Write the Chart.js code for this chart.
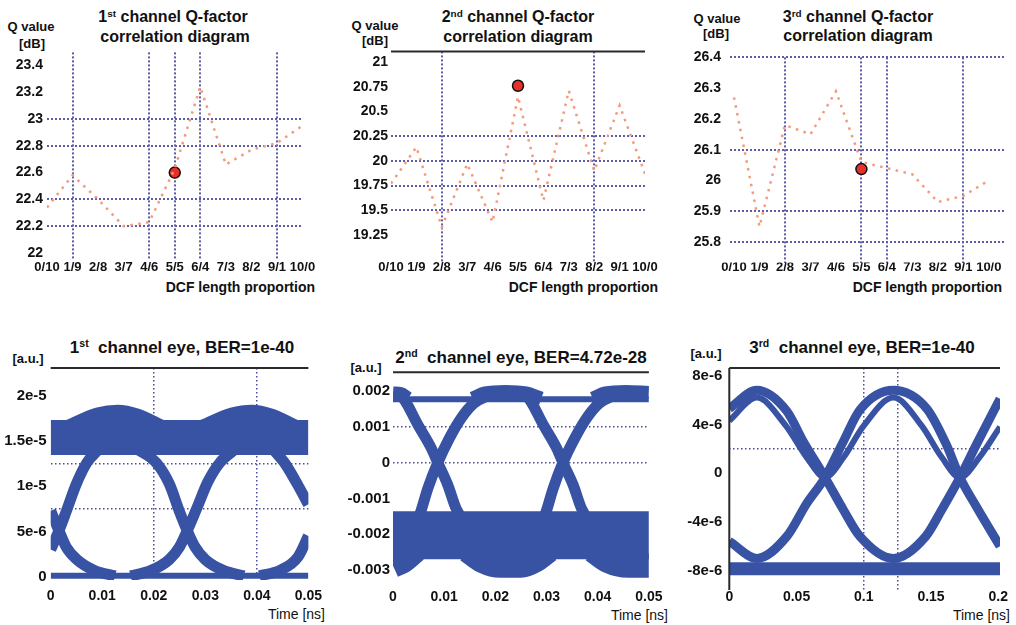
<!DOCTYPE html>
<html>
<head>
<meta charset="utf-8">
<script src="https://cdn.jsdelivr.net/npm/chart.js@4.4.1/dist/chart.umd.min.js"></script>
<style>
  html, body { margin: 0; padding: 0; background: #fff; }
  #wrap { position: relative; width: 1016px; height: 625px; overflow: hidden;
          font-family: "Liberation Sans", Arial, sans-serif; font-weight: bold; color: #111; }
  #wrap canvas { position: absolute; }
  .c { position: absolute; white-space: nowrap; transform: translate(-50%, -50%); line-height: 1; }
  .r { position: absolute; white-space: nowrap; transform: translate(-100%, -50%); line-height: 1; }
  .ttl { font-size: 16px; }
  .ettl { font-size: 17px; }
  .unit { font-size: 13px; }
  .xt { font-size: 14px; }
  .tm { font-size: 14px; font-weight: normal; }
  sup { font-size: 0.62em; vertical-align: 0.55em; line-height: 0; }
</style>
</head>
<body>
<div id="wrap">
  <!-- titles / axis names -->
  <div class="c ttl" style="left:173px;top:17px">1<sup>st</sup> channel Q-factor</div>
  <div class="c ttl" style="left:175px;top:37px">correlation diagram</div>
  <div class="c unit" style="left:31px;top:26px">Q value</div>
  <div class="c unit" style="left:32px;top:43px">[dB]</div>
  <div class="r xt" style="left:315px;top:287px">DCF length proportion</div>

  <div class="c ttl" style="left:518px;top:17px">2<sup>nd</sup> channel Q-factor</div>
  <div class="c ttl" style="left:518px;top:37px">correlation diagram</div>
  <div class="c unit" style="left:375px;top:25px">Q value</div>
  <div class="c unit" style="left:375px;top:40px">[dB]</div>
  <div class="r xt" style="left:658px;top:287px">DCF length proportion</div>

  <div class="c ttl" style="left:858px;top:17px">3<sup>rd</sup> channel Q-factor</div>
  <div class="c ttl" style="left:858px;top:36px">correlation diagram</div>
  <div class="c unit" style="left:717px;top:18px">Q value</div>
  <div class="c unit" style="left:716px;top:33px">[dB]</div>
  <div class="r xt" style="left:1002px;top:287px">DCF length proportion</div>

  <div class="c ettl" style="left:182px;top:347px">1<sup>st</sup>&nbsp; channel eye, BER=1e-40</div>
  <div class="c unit" style="left:28px;top:358px">[a.u.]</div>
  <div class="r tm" style="left:325px;top:614px">Time [ns]</div>

  <div class="c ettl" style="left:521px;top:357px">2<sup>nd</sup>&nbsp; channel eye, BER=4.72e-28</div>
  <div class="c unit" style="left:366px;top:367px">[a.u.]</div>
  <div class="r tm" style="left:668px;top:615px">Time [ns]</div>

  <div class="c ettl" style="left:862px;top:347px">3<sup>rd</sup>&nbsp; channel eye, BER=1e-40</div>
  <div class="c unit" style="left:706px;top:353px">[a.u.]</div>
  <div class="r tm" style="left:1010px;top:615px">Time [ns]</div>
</div>

<script>
// === Data: Q-factor vs DCF length proportion ===
const Q_LABELS = ["0/10","1/9","2/8","3/7","4/6","5/5","6/4","7/3","8/2","9/1","10/0"];

const Q1_VALUES = [22.34, 22.58, 22.40, 22.20, 22.23, 22.63, 23.24, 22.66, 22.77, 22.82, 22.95];
const Q1_BEST = [5, 22.6];
const Q1_Y_TICKS = [22, 22.2, 22.4, 22.6, 22.8, 23, 23.2, 23.4];
const Q1_Y_GRID = [22.2, 22.4, 22.8, 23];
const Q1_X_GRID = [1, 4, 5, 6, 9];

const Q2_VALUES = [19.77, 20.14, 19.33, 19.97, 19.38, 20.65, 19.60, 20.71, 19.90, 20.56, 19.87];
const Q2_BEST = [5, 20.76];
const Q2_Y_TICKS = [19.25, 19.5, 19.75, 20, 20.25, 20.5, 20.75, 21];
const Q2_Y_GRID = [19.5, 19.75, 20, 20.25];
const Q2_X_GRID = [2, 8];

const Q3_VALUES = [26.27, 25.85, 26.18, 26.15, 26.29, 26.06, 26.04, 26.02, 25.93, 25.95, 26.00];
const Q3_BEST = [5, 26.037];
const Q3_Y_TICKS = [25.8, 25.9, 26, 26.1, 26.2, 26.3, 26.4];
const Q3_Y_GRID = [25.8, 25.9, 26.1, 26.4];
const Q3_X_GRID = [2, 5, 6, 9];

// === Data: eye diagrams, traces as [time ns, amplitude] ===
const EYE1_X_TICKS = [0, 0.01, 0.02, 0.03, 0.04, 0.05];
const EYE1_X_GRID = [0.02, 0.04];
const EYE1_Y_TICKS = [0, 5e-6, 1e-5, 1.5e-5, 2e-5];
const EYE1_Y_LABELS = ["0", "5e-6", "1e-5", "1.5e-5", "2e-5"];
const EYE1_Y_GRID = [7.5e-6, 1.25e-5];
const EYE1_HIGH = [[0, 15.4e-6], [0.05, 15.4e-6]];
const EYE1_LOW = [[0, 0.1e-6], [0.05, 0.1e-6]];
const EYE1_DOME_A = [[0.004, 16.0e-6], [0.0094, 17.3e-6], [0.013, 17.6e-6], [0.0165, 17.2e-6], [0.021, 16.0e-6]];
const EYE1_DOME_B = [[0.030, 16.0e-6], [0.0355, 17.3e-6], [0.039, 17.6e-6], [0.0425, 17.2e-6], [0.047, 16.0e-6]];
const EYE1_FALL_L = [[0, 7.3e-6], [0.0016, 5.1e-6], [0.003, 3.3e-6], [0.0051, 1.9e-6], [0.0085, 0.7e-6], [0.0125, 0.1e-6]];
const EYE1_RISE_L = [[0, 3.0e-6], [0.0016, 5.1e-6], [0.003, 7.2e-6], [0.005, 10.3e-6], [0.007, 12.6e-6], [0.0095, 14.2e-6]];
const EYE1_FALL_C = [[0.0165, 14.2e-6], [0.0205, 12.6e-6], [0.023, 10.3e-6], [0.025, 7.2e-6], [0.0265, 5.1e-6], [0.028, 3.3e-6], [0.030, 1.9e-6], [0.0335, 0.7e-6], [0.0375, 0.1e-6]];
const EYE1_RISE_C = [[0.0155, 0.1e-6], [0.0195, 0.7e-6], [0.023, 1.9e-6], [0.025, 3.3e-6], [0.0265, 5.1e-6], [0.0283, 7.5e-6], [0.0305, 10.5e-6], [0.0328, 12.6e-6], [0.036, 14.2e-6]];
const EYE1_FALL_R = [[0.043, 14.2e-6], [0.0455, 12.5e-6], [0.0478, 10.3e-6], [0.05, 8.0e-6]];
const EYE1_RISE_R = [[0.0405, 0.1e-6], [0.0445, 0.7e-6], [0.048, 2.2e-6], [0.05, 4.5e-6]];

const EYE2_X_TICKS = [0, 0.01, 0.02, 0.03, 0.04, 0.05];
const EYE2_X_GRID = [];
const EYE2_Y_TICKS = [-0.003, -0.002, -0.001, 0, 0.001, 0.002];
const EYE2_Y_LABELS = ["-0.003", "-0.002", "-0.001", "0", "0.001", "0.002"];
const EYE2_Y_GRID = [0, 0.001];
const EYE2_HIGH = [[0, 1.77e-3], [0.05, 1.77e-3]];
const EYE2_HIGH_BUMP_L = [[0, 1.95e-3], [0.0015, 1.93e-3], [0.003, 1.8e-3]];
const EYE2_HIGH_BUMP_C = [[0.0155, 1.8e-3], [0.018, 1.95e-3], [0.022, 1.99e-3], [0.026, 1.95e-3], [0.029, 1.8e-3]];
const EYE2_HIGH_BUMP_R = [[0.039, 1.8e-3], [0.0415, 1.95e-3], [0.0455, 1.99e-3], [0.05, 1.96e-3]];
const EYE2_LOW = [[0, -2.03e-3], [0.05, -2.03e-3]];
const EYE2_LOW_BUMP_L = [[0, -2.88e-3], [0.002, -2.75e-3], [0.0045, -2.45e-3]];
const EYE2_LOW_BUMP_C = [[0.0145, -2.45e-3], [0.0175, -2.75e-3], [0.021, -2.88e-3], [0.025, -2.88e-3], [0.028, -2.72e-3], [0.0305, -2.45e-3]];
const EYE2_LOW_BUMP_R = [[0.039, -2.45e-3], [0.042, -2.75e-3], [0.046, -2.88e-3], [0.05, -2.88e-3]];
const EYE2_FALL_1 = [[0.0005, 1.95e-3], [0.002, 1.8e-3], [0.0049, 1.05e-3], [0.0075, 0.4e-3], [0.00875, 0], [0.0107, -0.62e-3], [0.0123, -1.27e-3], [0.0139, -1.65e-3], [0.0155, -1.9e-3]];
const EYE2_RISE_1 = [[0.0035, -1.9e-3], [0.0052, -1.46e-3], [0.0068, -0.72e-3], [0.00875, 0], [0.011, 0.68e-3], [0.0133, 1.24e-3], [0.0158, 1.66e-3], [0.019, 1.9e-3]];
const EYE2_FALL_2 = [[0.0255, 1.9e-3], [0.0265, 1.8e-3], [0.0294, 1.05e-3], [0.032, 0.4e-3], [0.0332, 0], [0.0352, -0.62e-3], [0.0368, -1.27e-3], [0.0384, -1.65e-3], [0.04, -1.9e-3]];
const EYE2_RISE_2 = [[0.028, -1.9e-3], [0.0297, -1.46e-3], [0.0313, -0.72e-3], [0.0332, 0], [0.0355, 0.68e-3], [0.0378, 1.24e-3], [0.0403, 1.66e-3], [0.0435, 1.9e-3]];

const EYE3_X_TICKS = [0, 0.05, 0.1, 0.15, 0.2];
const EYE3_X_GRID = [0.1, 0.125];
const EYE3_Y_TICKS = [-8e-6, -4e-6, 0, 4e-6, 8e-6];
const EYE3_Y_LABELS = ["-8e-6", "-4e-6", "0", "4e-6", "8e-6"];
const EYE3_Y_GRID = [2e-6];
const EYE3_FLOOR = [[0, -7.85e-6], [0.2013, -7.85e-6]];
const EYE3_TRACE_A = [[0, 5.3e-6], [0.0204, 6.8e-6], [0.0427, 5.1e-6], [0.055, 2.6e-6], [0.0712, -0.35e-6], [0.0848, -3.0e-6], [0.0972, -5.2e-6], [0.122, -7.0e-6], [0.146, -5.2e-6], [0.158, -3.0e-6], [0.1715, -0.35e-6], [0.184, 2.4e-6], [0.2013, 6.1e-6]];
const EYE3_TRACE_B = [[0, -5.6e-6], [0.0204, -7.0e-6], [0.0427, -5.2e-6], [0.0575, -2.5e-6], [0.0712, -0.35e-6], [0.0848, 2.6e-6], [0.0972, 5.2e-6], [0.122, 6.8e-6], [0.1468, 5.3e-6], [0.1616, 2.3e-6], [0.1715, -0.35e-6], [0.184, -2.8e-6], [0.2013, -6.0e-6]];
const EYE3_INNER = [[0, 4.3e-6], [0.0204, 6.2e-6], [0.042, 3.9e-6], [0.0575, 1.3e-6], [0.0712, -0.35e-6], [0.085, 1.3e-6], [0.1, 3.9e-6], [0.122, 6.2e-6], [0.143, 3.9e-6], [0.158, 1.3e-6], [0.1715, -0.35e-6], [0.186, 1.3e-6], [0.2013, 3.8e-6]];

// === Layout: canvas box [left, top, w, h] and plot area [L, T, R, B] ===
const LAYOUT = {
  q1: { box: [0, 40, 330, 240],   area: [47, 50, 302.5, 260],      xr: [0, 10],          yr: [21.948, 23.496] },
  q2: { box: [340, 40, 330, 240], area: [391, 51, 645, 262],       xr: [0, 10],          yr: [18.977, 21.108] },
  q3: { box: [680, 40, 336, 240], area: [730, 51.7, 1006, 263],    xr: [-0.157, 10.675], yr: [25.733, 26.4] },
  e1: { box: [0, 355, 330, 255],  area: [50.7, 365, 313.3, 580],   xr: [0, 0.05],        yr: [-3.6e-7, 2.309e-5] },
  e2: { box: [340, 360, 330, 250],area: [393, 372.3, 652, 580.8],  xr: [0, 0.05],        yr: [-3.3e-3, 2.525e-3] },
  e3: { box: [680, 352, 336, 258],area: [729.3, 363.3, 1000, 590], xr: [0, 0.2013],      yr: [-9.59e-6, 8.63e-6] }
};

const FONT = '"Liberation Sans", Arial, sans-serif';
const Q_GRID = '#5c5cab';
const EYE_GRID = '#4b4b9b';
const EYE_BLUE = '#3953a4';
const Q_LINE = '#f49a7a';

Chart.defaults.font.family = FONT;
Chart.defaults.color = '#111';
Chart.defaults.animation = false;

const near = (list, v) => list.some(x => Math.abs(x - v) < Math.abs(v) * 1e-9 + 1e-15);
const pts = arr => arr.map(p => ({ x: p[0], y: p[1] }));
const uniq = arr => arr.filter((v, i) => arr.findIndex(w => Math.abs(w - v) < Math.abs(v) * 1e-9 + 1e-15) === i).sort((a, b) => a - b);

// draws the solid black frame sides used by some panels
const framePlugin = {
  id: 'frame',
  afterDatasetsDraw(chart, args, opts) {
    const sides = opts.sides || [];
    if (!sides.length) return;
    const { ctx, chartArea: a } = chart;
    ctx.save();
    ctx.strokeStyle = '#2a2a2a';
    ctx.lineWidth = 2;
    ctx.beginPath();
    if (sides.includes('top')) { ctx.moveTo(a.left, a.top); ctx.lineTo(a.right, a.top); }
    if (sides.includes('left')) { ctx.moveTo(a.left, a.top); ctx.lineTo(a.left, a.bottom); }
    ctx.stroke();
    ctx.restore();
  }
};

function makeCanvas(key) {
  const [l, t, w, h] = LAYOUT[key].box;
  const c = document.createElement('canvas');
  c.width = w; c.height = h;
  c.style.left = l + 'px'; c.style.top = t + 'px';
  c.style.width = w + 'px'; c.style.height = h + 'px';
  document.getElementById('wrap').appendChild(c);
  return c;
}

// generic panel: explicit ticks, grid drawn only on selected values
function makePanel(key, p) {
  const L = LAYOUT[key];
  const [bl, bt, bw, bh] = L.box;
  const [al, at, ar, ab] = L.area;
  const xTickVals = uniq(p.xTicks.concat(p.xGrid));
  const yTickVals = uniq(p.yTicks.concat(p.yGrid));
  return new Chart(makeCanvas(key), {
    type: 'line',
    data: { datasets: p.datasets },
    plugins: [framePlugin],
    options: {
      responsive: false,
      devicePixelRatio: 1,
      events: [],
      layout: { padding: { left: 0, top: at - bt, right: bl + bw - ar, bottom: 0 } },
      plugins: { legend: { display: false }, tooltip: { enabled: false }, frame: { sides: p.frame || [] } },
      scales: {
        x: {
          type: 'linear', min: L.xr[0], max: L.xr[1],
          afterBuildTicks: s => { s.ticks = xTickVals.map(v => ({ value: v })); },
          afterFit: s => { s.height = bt + bh - ab; },
          ticks: {
            autoSkip: false, maxRotation: 0, minRotation: 0, padding: p.xPad,
            font: { size: p.xFont, weight: 'bold' }, color: '#111',
            callback: v => { const i = p.xTicks.findIndex(w => Math.abs(w - v) < 1e-9); return i < 0 ? '' : p.xLabels[i]; }
          },
          grid: {
            drawTicks: false, lineWidth: p.gridWidth,
            color: ctx => (ctx.tick && near(p.xGrid, ctx.tick.value)) ? p.gridColor : 'rgba(0,0,0,0)'
          },
          border: { display: false, dash: p.gridDash }
        },
        y: {
          type: 'linear', min: L.yr[0], max: L.yr[1],
          afterBuildTicks: s => { s.ticks = yTickVals.map(v => ({ value: v })); },
          afterFit: s => { s.width = al - bl; },
          ticks: {
            autoSkip: false, padding: p.yPad,
            font: { size: p.yFont, weight: 'bold' }, color: '#111',
            callback: v => { const i = p.yTicks.findIndex(w => near([w], v)); return i < 0 ? '' : p.yLabels[i]; }
          },
          grid: {
            drawTicks: false, lineWidth: p.gridWidth,
            color: ctx => (ctx.tick && near(p.yGrid, ctx.tick.value)) ? p.gridColor : 'rgba(0,0,0,0)'
          },
          border: { display: false, dash: p.gridDash }
        }
      }
    }
  });
}

// Q-factor panels
function qDatasets(values, best) {
  return [
    { data: values.map((v, i) => ({ x: i, y: v })), borderColor: Q_LINE, borderWidth: 2.5,
      borderDash: [2.5, 5.5], pointRadius: 0, tension: 0, fill: false },
    { data: [{ x: best[0], y: best[1] }], showLine: false, pointRadius: 5.5,
      pointBackgroundColor: '#e8302b', pointBorderColor: '#111', pointBorderWidth: 1.5 }
  ];
}
const qIdx = Q_LABELS.map((_, i) => i);
const qCommon = { xTicks: qIdx, xLabels: Q_LABELS, xFont: 13, yFont: 14,
                  gridColor: Q_GRID, gridWidth: 2, gridDash: [2, 2] };

makePanel('q1', Object.assign({}, qCommon, {
  datasets: qDatasets(Q1_VALUES, Q1_BEST), xGrid: Q1_X_GRID,
  yTicks: Q1_Y_TICKS, yLabels: Q1_Y_TICKS.map(String), yGrid: Q1_Y_GRID, xPad: 0, yPad: 4
}));
makePanel('q2', Object.assign({}, qCommon, {
  datasets: qDatasets(Q2_VALUES, Q2_BEST), xGrid: Q2_X_GRID,
  yTicks: Q2_Y_TICKS, yLabels: Q2_Y_TICKS.map(String), yGrid: Q2_Y_GRID, xPad: -2, yPad: 3, frame: ['top']
}));
makePanel('q3', Object.assign({}, qCommon, {
  datasets: qDatasets(Q3_VALUES, Q3_BEST), xGrid: Q3_X_GRID,
  yTicks: Q3_Y_TICKS, yLabels: Q3_Y_TICKS.map(String), yGrid: Q3_Y_GRID, xPad: -3, yPad: 9
}));

// eye panels: each trace is a thick band
function band(arr, width) {
  return { data: pts(arr), borderColor: EYE_BLUE, borderWidth: width, pointRadius: 0,
           cubicInterpolationMode: 'monotone', fill: false, clip: 0,
           borderJoinStyle: 'round', borderCapStyle: 'butt' };
}
const eyeCommon = { xFont: 14, yFont: 15, gridColor: EYE_GRID, gridWidth: 1.5, gridDash: [1.5, 2.5] };

makePanel('e1', Object.assign({}, eyeCommon, {
  datasets: [
    band(EYE1_HIGH, 35), band(EYE1_LOW, 6), band(EYE1_DOME_A, 26), band(EYE1_DOME_B, 26),
    band(EYE1_FALL_L, 11), band(EYE1_RISE_L, 11), band(EYE1_FALL_C, 11), band(EYE1_RISE_C, 11),
    band(EYE1_FALL_R, 11), band(EYE1_RISE_R, 11)
  ],
  xTicks: EYE1_X_TICKS, xLabels: EYE1_X_TICKS.map(String), xGrid: EYE1_X_GRID,
  yTicks: EYE1_Y_TICKS, yLabels: EYE1_Y_LABELS, yGrid: EYE1_Y_GRID, xPad: 8, yPad: 4, frame: ['top']
}));
makePanel('e2', Object.assign({}, eyeCommon, {
  datasets: [
    band(EYE2_LOW, 48), band(EYE2_LOW_BUMP_L, 24), band(EYE2_LOW_BUMP_C, 24), band(EYE2_LOW_BUMP_R, 24),
    band(EYE2_HIGH, 6), band(EYE2_HIGH_BUMP_L, 13), band(EYE2_HIGH_BUMP_C, 13), band(EYE2_HIGH_BUMP_R, 13),
    band(EYE2_FALL_1, 11), band(EYE2_RISE_1, 11), band(EYE2_FALL_2, 11), band(EYE2_RISE_2, 11)
  ],
  xTicks: EYE2_X_TICKS, xLabels: EYE2_X_TICKS.map(String), xGrid: EYE2_X_GRID,
  yTicks: EYE2_Y_TICKS, yLabels: EYE2_Y_LABELS, yGrid: EYE2_Y_GRID, xPad: 7.5, yPad: 3, frame: ['top']
}));
makePanel('e3', Object.assign({}, eyeCommon, {
  datasets: [
    band(EYE3_FLOOR, 13), band(EYE3_TRACE_A, 9), band(EYE3_TRACE_B, 9), band(EYE3_INNER, 6)
  ],
  xTicks: EYE3_X_TICKS, xLabels: EYE3_X_TICKS.map(String), xGrid: EYE3_X_GRID,
  yTicks: EYE3_Y_TICKS, yLabels: EYE3_Y_LABELS, yGrid: EYE3_Y_GRID, xPad: -1.5, yPad: 7, frame: ['top', 'left']
}));
</script>
</body>
</html>
